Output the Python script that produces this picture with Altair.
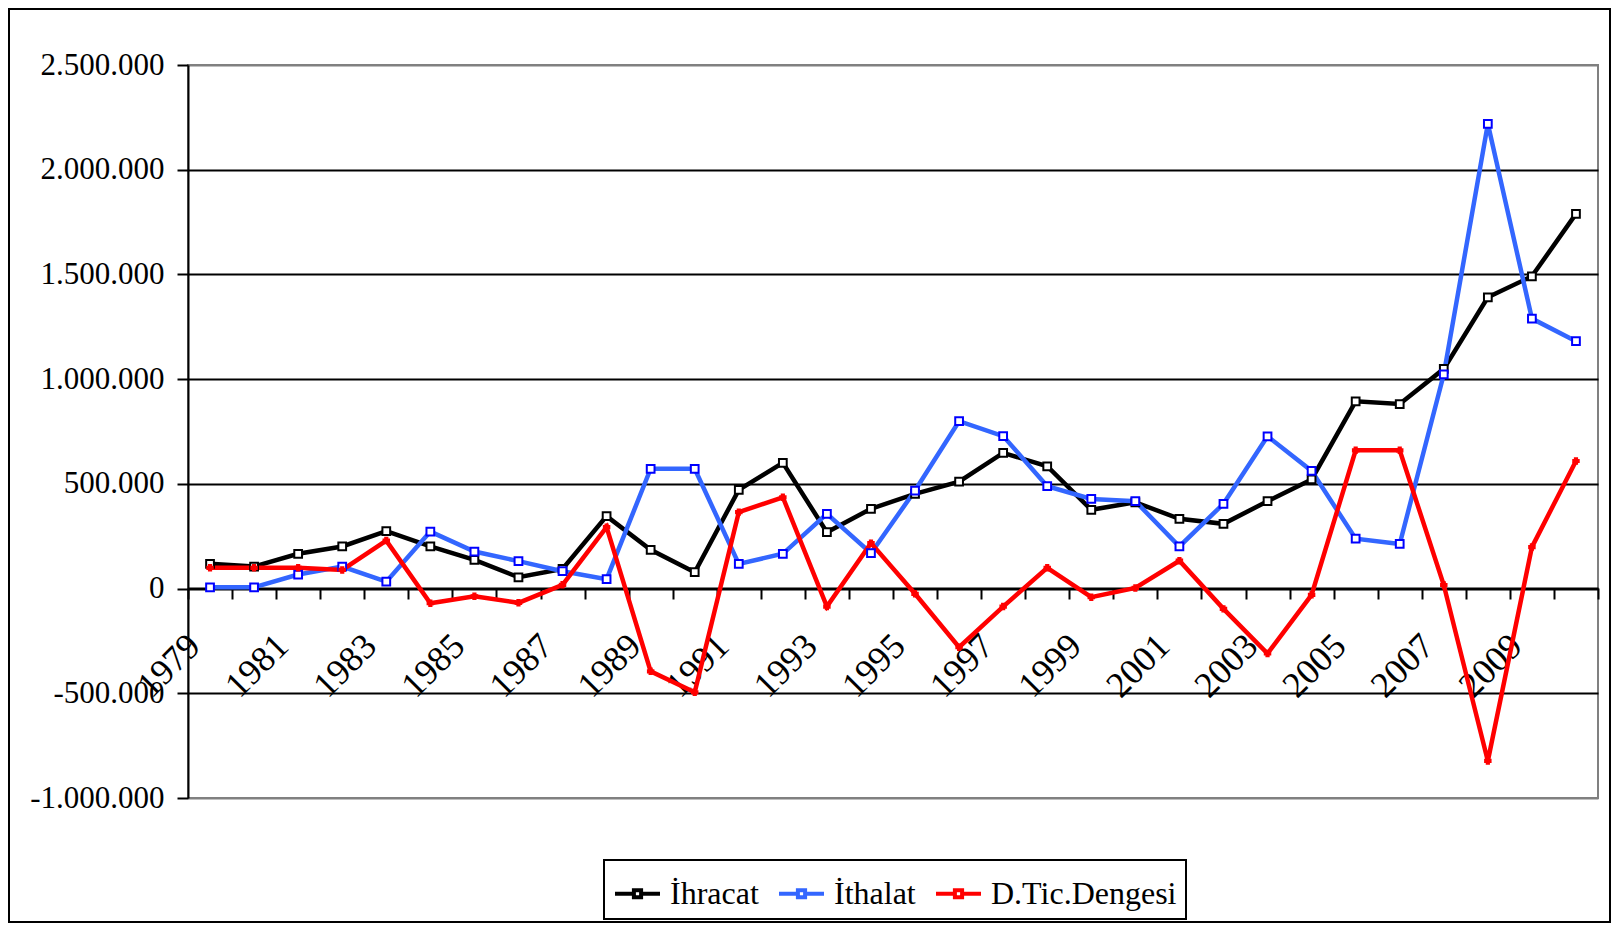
import altair as alt
import pandas as pd

years = list(range(1979, 2011))
ihracat = [118000, 105000, 166000, 201000, 274000, 201000, 137000, 54000, 94000, 346000,
           185000, 78000, 471000, 600000, 269000, 381000, 452000, 511000, 648000, 584000,
           376000, 412000, 333000, 309000, 417000, 521000, 894000, 881000, 1049000, 1391000,
           1491000, 1789000]
ithalat = [6000, 6000, 67000, 105000, 33000, 272000, 177000, 131000, 83000, 45000,
           572000, 572000, 118000, 166000, 357000, 169000, 468000, 799000, 728000, 489000,
           428000, 417000, 201000, 405000, 727000, 562000, 238000, 213000, 1023000, 2219000,
           1289000, 1181000]
denge = [99000, 99000, 99000, 89000, 229000, -70000, -37000, -68000, 18000, 293000,
         -395000, -495000, 365000, 436000, -86000, 217000, -25000, -280000, -86000, 99000,
         -41000, 3000, 133000, -97000, -310000, -30000, 660000, 660000, 17000, -823000,
         198000, 609000]

series_names = ["İhracat", "İthalat", "D.Tic.Dengesi"]
line_colors = ["#000000", "#3366FF", "#FF0000"]
marker_strokes = ["#000000", "#0000FF", "#FF0000"]
marker_fills = ["#FFFFFF", "#FFFFFF", "#FF0000"]
marker_shapes = ["square", "square", "cross"]
marker_sizes = [60, 60, 30]
y_ticks = [-1000000, -500000, 0, 500000, 1000000, 1500000, 2000000, 2500000]

rows = []
for name, vals in zip(series_names, [ihracat, ithalat, denge]):
    for yr, v in zip(years, vals):
        rows.append({"year": yr, "series": name, "value": v})
df = pd.DataFrame(rows)

FONT = "Liberation Serif"
W, H = 1410, 733

x_enc = alt.X(
    "year:O",
    bandPosition=0.5,
    scale=alt.Scale(type="band", paddingInner=0, paddingOuter=0),
    axis=alt.Axis(
        title=None,
        offset=-210,
        tickBand="extent",
        tickSize=11,
        tickWidth=2,
        tickColor="black",
        domainColor="black",
        domainWidth=2,
        labelAngle=-45,
        labelAlign="right",
        labelBaseline="middle",
        labelPadding=41,
        labelOffset=-16,
        labelFont=FONT,
        labelFontSize=36,
        labelColor="black",
        labelOverlap=False,
        labelBound=False,
        labelFlush=False,
        labelExpr="datum.value % 2 == 1 ? datum.label : ''",
        grid=False,
    ),
)

y_enc = alt.Y(
    "value:Q",
    scale=alt.Scale(domain=[-1000000, 2500000], nice=False, zero=False),
    axis=alt.Axis(
        title=None,
        values=y_ticks,
        format=",.0f",
        tickSize=11,
        tickWidth=2,
        tickColor="black",
        domainColor="black",
        domainWidth=2,
        labelFont=FONT,
        labelFontSize=31,
        labelColor="black",
        labelPadding=13,
        grid=True,
        gridColor={"condition": {"test": "datum.value === 2500000 || datum.value === -1000000",
                                 "value": "#808080"}, "value": "#000000"},
        gridWidth=2,
        gridOpacity=1,
    ),
)

legend_symbol = "M-1,0H-0.16M0.16,0H1M-0.16,-0.16H0.16V0.16H-0.16Z"

lines = alt.Chart(df).mark_line(strokeWidth=4.5).encode(
    x=x_enc,
    y=y_enc,
    color=alt.Color(
        "series:N",
        scale=alt.Scale(domain=series_names, range=line_colors),
        sort=series_names,
        legend=alt.Legend(
            title=None,
            orient="none",
            legendX=416,
            legendY=795,
            direction="horizontal",
            columns=3,
            symbolType=legend_symbol,
            symbolSize=2025,
            symbolStrokeWidth=4,
            labelFont=FONT,
            labelFontSize=32,
            labelColor="black",
            labelOffset=8,
            columnPadding=12,
            padding=9,
            strokeColor="black",
            fillColor="white",
            labelLimit=400,
        ),
    ),
)

point_layers = []
for name, stroke, fill, shape, size in zip(series_names, marker_strokes, marker_fills,
                                           marker_shapes, marker_sizes):
    point_layers.append(
        alt.Chart(df).transform_filter(alt.datum.series == name).mark_point(
            filled=True, shape=shape, size=size, fill=fill, stroke=stroke,
            strokeWidth=2, opacity=1
        ).encode(
            x=alt.X("year:O", bandPosition=0.5),
            y="value:Q",
        )
    )

frame = alt.Chart(pd.DataFrame({"a": [0]})).mark_rect(
    fill="transparent", stroke="black", strokeWidth=2
).encode(
    x=alt.value(-179), x2=alt.value(W + 12), y=alt.value(-56), y2=alt.value(H + 124)
)

chart = alt.layer(lines, *point_layers, frame).properties(
    width=W,
    height=H,
    autosize=alt.AutoSizeParams(type="none"),
    padding={"left": 180, "top": 57, "right": 13, "bottom": 125},
).configure(
    locale={"number": {"decimal": ",", "thousands": ".", "grouping": [3],
                       "currency": ["", ""], "minus": "-"}},
    background="white",
).configure_view(
    stroke="#808080", strokeWidth=2
).configure_legend(
    strokeWidth=2
)

chart.save("out.html", embed_options={"renderer": "svg", "actions": False})
